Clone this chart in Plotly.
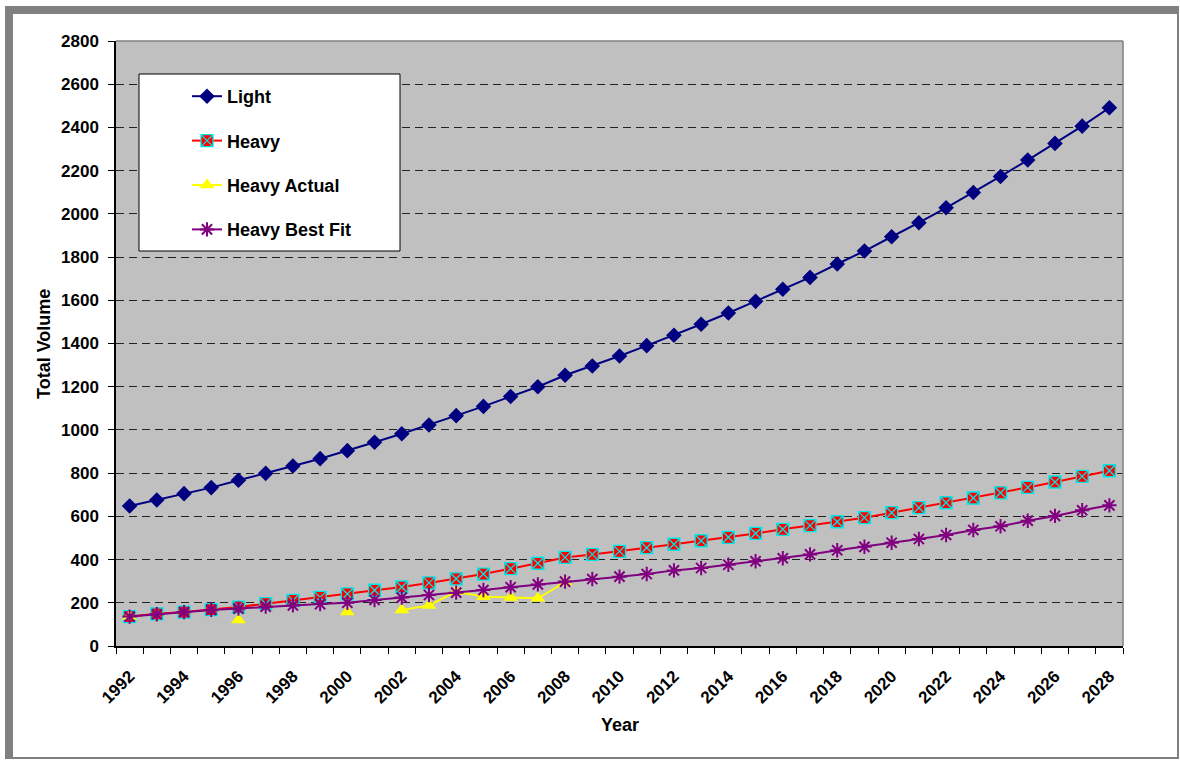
import plotly.graph_objects as go

# Data
years = list(range(1992, 2029))

light = [648, 676, 705, 733, 767, 799, 833, 867, 904, 943, 982, 1023, 1066,
         1109, 1155, 1200, 1253, 1296, 1342, 1390, 1438, 1489, 1541, 1595,
         1651, 1706, 1768, 1828, 1894, 1959, 2028, 2099, 2173, 2249, 2326,
         2406, 2491]

heavy = [136, 149, 157, 168, 180, 196, 211, 225, 241, 258, 273, 292, 311,
         333, 358, 383, 410, 424, 438, 455, 471, 487, 503, 521, 540, 557,
         575, 594, 617, 640, 663, 685, 709, 734, 759, 785, 811]

heavy_actual = [136, None, None, None, 120, None, None, None, 157, None, 167,
                188, 252, 228, 224, 221, 295] + [None] * 20

heavy_best_fit = [136, 147, 157, 167, 173, 182, 188, 194, 200, 213, 224, 236,
                  247, 259, 272, 285, 298, 310, 321, 333, 350, 361, 376, 392,
                  406, 424, 443, 459, 478, 495, 514, 537, 554, 580, 602, 628,
                  651]

W, H = 1180, 760
L, R, T, B = 116, 1123, 41, 646   # plot area in pixels

FONT = "Liberation Sans, Arial, sans-serif"
GRAY = "#808080"


def px(x):
    return (x - L) / (R - L)


def py(y):
    return (B - y) / (B - T)


fig = go.Figure([
    go.Scatter(x=years, y=light, name="Light", mode="lines+markers",
               legendgroup="a",
               line=dict(color="#000080", width=2),
               marker=dict(symbol="diamond", size=12, color="#000080")),
    go.Scatter(x=years, y=heavy, name="Heavy", mode="lines+markers",
               legendgroup="b",
               line=dict(color="#FF0000", width=2),
               marker=dict(symbol="square-x", size=12, color="#FF0000",
                           line=dict(color="#00E5E5", width=1.3))),
    go.Scatter(x=years, y=heavy_actual, name="Heavy Actual",
               mode="lines+markers", legendgroup="c", connectgaps=False,
               line=dict(color="#FFFF00", width=2),
               marker=dict(symbol="triangle-up", size=13, color="#FFFF00")),
    go.Scatter(x=years, y=heavy_best_fit, name="Heavy Best Fit",
               mode="lines+markers", legendgroup="d",
               line=dict(color="#800080", width=2),
               marker=dict(symbol="asterisk-open", size=12, color="#800080",
                           line=dict(color="#800080", width=2))),
])

fig.update_layout(
    width=W, height=H,
    margin=dict(l=L, r=W - R, t=T, b=H - B),
    paper_bgcolor="white",
    plot_bgcolor="#C0C0C0",
    font=dict(family=FONT, size=17, color="black", weight="bold"),
    showlegend=True,
    legend=dict(
        x=px(187), y=py(78), xanchor="left", yanchor="top",
        bgcolor="rgba(0,0,0,0)", borderwidth=0,
        font=dict(size=18, weight="bold"),
        traceorder="grouped", tracegroupgap=18,
    ),
    shapes=[
        # legend box
        dict(type="rect", xref="paper", yref="paper", layer="above",
             x0=px(139), x1=px(400), y0=py(251), y1=py(74),
             fillcolor="white", line=dict(color="black", width=1)),
        # plot area top/right border
        dict(type="line", xref="paper", yref="paper",
             x0=0, x1=1, y0=1, y1=1, line=dict(color=GRAY, width=1.5)),
        dict(type="line", xref="paper", yref="paper",
             x0=1, x1=1, y0=0, y1=1, line=dict(color=GRAY, width=1.5)),
        # outer frame
        dict(type="rect", xref="paper", yref="paper",
             x0=px(6), x1=px(1178), y0=py(758), y1=py(7),
             line=dict(color=GRAY, width=2)),
        dict(type="rect", xref="paper", yref="paper",
             x0=px(5), x1=px(1179), y0=py(14), y1=py(6),
             fillcolor=GRAY, line=dict(width=0)),
        dict(type="rect", xref="paper", yref="paper",
             x0=px(5), x1=px(13), y0=py(759), y1=py(6),
             fillcolor=GRAY, line=dict(width=0)),
    ],
    annotations=[
        dict(text="Total Volume", xref="paper", yref="paper",
             x=px(44), y=py(344), xanchor="center", yanchor="middle",
             showarrow=False, textangle=-90,
             font=dict(size=18, weight="bold")),
        dict(text="Year", xref="paper", yref="paper",
             x=0.5, y=py(725), xanchor="center", yanchor="middle",
             showarrow=False, font=dict(size=18, weight="bold")),
    ],
)

fig.update_xaxes(
    range=[1991.5, 2028.5],
    tickmode="array", tickvals=years[::2], ticks="",
    tickangle=-45, ticklabelstandoff=12,
    showline=True, linecolor="black", linewidth=1.5,
    showgrid=False, zeroline=False,
    minor=dict(tick0=1991.5, dtick=1, ticks="outside", ticklen=6,
               tickcolor="black", tickwidth=1, showgrid=False),
)

fig.update_yaxes(
    range=[0, 2800], dtick=200,
    ticks="outside", ticklen=6, tickcolor="black", ticklabelstandoff=6,
    showline=True, linecolor="black", linewidth=1.5,
    showgrid=True, gridcolor="#222222", gridwidth=1, griddash="8px,5px",
    zeroline=False,
)

fig.write_html("out.html", config={"displayModeBar": False},
               post_script="document.body.style.margin='0';")
